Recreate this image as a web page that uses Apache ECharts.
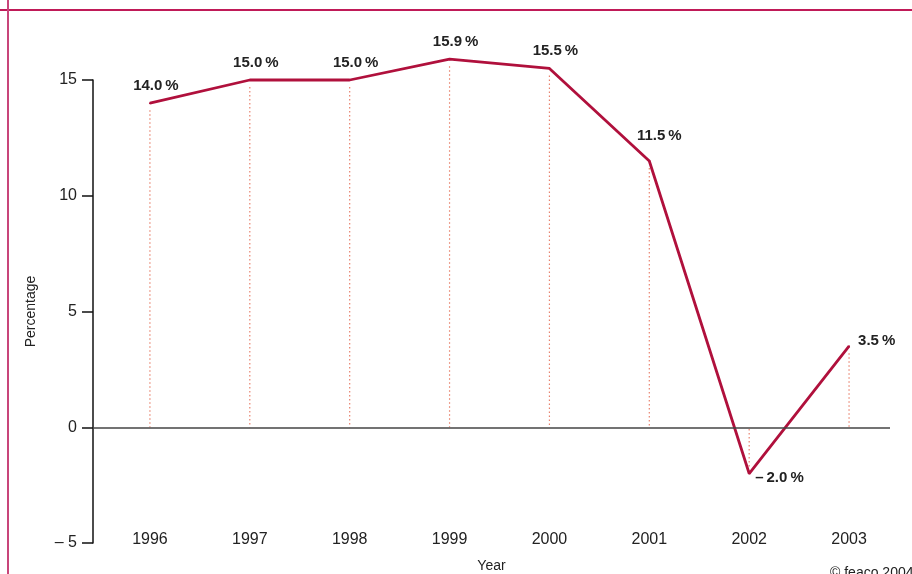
<!DOCTYPE html>
<html>
<head>
<meta charset="utf-8">
<script src="https://cdn.jsdelivr.net/npm/echarts@6/dist/echarts.min.js"></script>
<style>
html, body { margin: 0; padding: 0; background: #fff; }
#chart { width: 912px; height: 574px; }
</style>
</head>
<body>
<div id="chart"></div>
<script>
// data
var years = [1996, 1997, 1998, 1999, 2000, 2001, 2002, 2003];
var growth = [14.0, 15.0, 15.0, 15.9, 15.5, 11.5, -2.0, 3.5];
var yTicks = [-5, 0, 5, 10, 15];

var lineColor = '#b0103c';
var font = 'Liberation Sans, Arial, sans-serif';

function fmtPct(v) {
    var s = Math.abs(v).toFixed(1) + '\u2009%';
    return v < 0 ? '\u2013\u2009' + s : s;
}

// label placement per point
var labelPos = {
    2001: { position: 'top', offset: [10, -12] },
    2002: { position: 'right', distance: 5, offset: [0, 4] },
    2003: { position: 'right', distance: 8, offset: [0, -5] }
};

var points = [];
var dropData = [];
for (var i = 0; i < years.length; i++) {
    var lab = labelPos[years[i]] || { position: 'top', offset: [6, -4] };
    lab.show = true;
    points.push({ value: [years[i], growth[i]], label: lab });
    dropData.push([years[i], growth[i]]);
}

var myChart = echarts.init(document.getElementById('chart'));
var option = {
    animation: false,
    backgroundColor: '#fff',
    title: {
        text: '\u00a9 feaco 2004',
        left: 825,
        top: 561,
        textStyle: { fontFamily: font, fontSize: 14, fontWeight: 'normal', color: '#222' }
    },
    grid: { left: 93, right: 22, top: 80, bottom: 31, outerBoundsMode: 'none', containLabel: false },
    xAxis: {
        type: 'value',
        min: 1995.43,
        max: 2003.41,
        splitNumber: 8,
        name: 'Year',
        nameLocation: 'middle',
        nameGap: 16,
        nameTextStyle: { fontFamily: font, fontSize: 14, color: '#222' },
        axisLine: { show: false, onZero: false },
        axisTick: { show: false },
        splitLine: { show: false },
        axisLabel: {
            margin: -11,
            showMinLabel: false,
            showMaxLabel: false,
            fontFamily: font,
            fontSize: 16,
            color: '#222',
            formatter: function (v) { return years.indexOf(v) >= 0 ? String(v) : ''; }
        }
    },
    yAxis: {
        type: 'value',
        min: yTicks[0],
        max: yTicks[yTicks.length - 1],
        interval: 5,
        name: 'Percentage',
        nameLocation: 'middle',
        nameGap: 55,
        nameTextStyle: { fontFamily: font, fontSize: 14, color: '#222' },
        axisLine: { show: true, lineStyle: { color: '#111', width: 1.5 } },
        axisTick: { show: true, length: 11, lineStyle: { color: '#111', width: 1.5 } },
        splitLine: { show: false },
        axisLabel: {
            margin: 16,
            fontFamily: font,
            fontSize: 16,
            color: '#222',
            formatter: function (v) { return v < 0 ? '\u2013 ' + Math.abs(v) : String(v); }
        }
    },
    graphic: [
        { type: 'line', shape: { x1: 0, y1: 10, x2: 912, y2: 10 }, style: { stroke: '#c01a58', lineWidth: 2 } },
        { type: 'line', shape: { x1: 8, y1: 0, x2: 8, y2: 574 }, style: { stroke: '#c8457a', lineWidth: 2 } }
    ],
    series: [{
        // dotted drop lines from each point to zero
        name: 'drops',
        type: 'custom',
        data: dropData,
        clip: false,
        silent: true,
        z: 1,
        renderItem: function (params, api) {
            var p = api.coord([api.value(0), api.value(1)]);
            var b = api.coord([api.value(0), 0]);
            var gap = p[1] < b[1] ? 7 : -7;
            return {
                type: 'line',
                shape: { x1: p[0], y1: p[1] + gap, x2: b[0], y2: b[1] },
                style: { stroke: '#e8826e', lineWidth: 1.2, lineDash: [1.5, 2.5] }
            };
        }
    }, {
        name: 'growth',
        type: 'line',
        data: points,
        clip: false,
        symbol: 'circle',
        symbolSize: 2,
        showSymbol: true,
        itemStyle: { color: lineColor },
        lineStyle: { color: lineColor, width: 2.8 },
        label: {
            fontFamily: font,
            fontSize: 15,
            fontWeight: 'bold',
            color: '#222',
            formatter: function (p) { return fmtPct(p.value[1]); }
        },
        z: 3
    }, {
        name: 'zero',
        type: 'line',
        data: [],
        clip: false,
        markLine: {
            silent: true,
            symbol: 'none',
            label: { show: false },
            data: [{ yAxis: 0 }],
            lineStyle: { color: '#444', width: 1.5, type: 'solid' }
        },
        z: 2
    }]
};
myChart.setOption(option);
</script>
</body>
</html>
